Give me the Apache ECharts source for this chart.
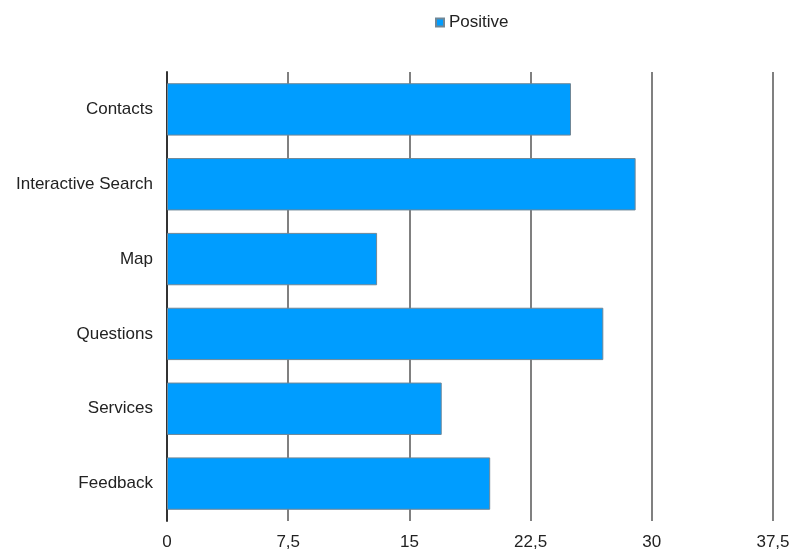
<!DOCTYPE html>
<html>
<head>
<meta charset="utf-8">
<script src="https://cdn.jsdelivr.net/npm/echarts@6/dist/echarts.min.js"></script>
<style>
  html, body { margin: 0; padding: 0; background: #fff; }
  #chart { width: 795px; height: 556px; }
</style>
</head>
<body>
<div id="chart"></div>
<script>
// Categories listed top to bottom
const categories = ['Contacts', 'Interactive Search', 'Map', 'Questions', 'Services', 'Feedback'];
const positiveValues = [25, 29, 13, 27, 17, 20];
const seriesName = 'Positive';
const axisMax = 37.5;
const axisStep = 7.5;

const labelFont = '"Liberation Sans", Arial, sans-serif';

const chart = echarts.init(document.getElementById('chart'), null, { renderer: 'canvas' });

chart.setOption({
  backgroundColor: '#ffffff',
  animation: false,
  textStyle: { fontFamily: labelFont },
  legend: {
    data: [seriesName],
    top: 9,
    left: 430,
    itemWidth: 8,
    itemHeight: 8,
    itemGap: 4,
    icon: 'rect',
    textStyle: { fontSize: 17, color: '#222', fontFamily: labelFont }
  },
  grid: { left: 167, right: 22, top: 72, bottom: 35, containLabel: false, outerBoundsMode: 'none' },
  xAxis: {
    type: 'value',
    min: 0,
    max: axisMax,
    interval: axisStep,
    axisLine: { show: false },
    axisTick: { show: false },
    splitLine: { show: true, lineStyle: { color: '#808080', width: 2 } },
    axisLabel: {
      fontSize: 17,
      color: '#222',
      margin: 13,
      fontFamily: labelFont,
      formatter: v => String(v).replace('.', ',')
    }
  },
  yAxis: {
    type: 'category',
    data: categories,
    inverse: true,
    axisLine: { show: true, lineStyle: { color: '#333', width: 2 } },
    axisTick: { show: false },
    axisLabel: { fontSize: 17, color: '#222', margin: 14, fontFamily: labelFont }
  },
  series: [{
    name: seriesName,
    type: 'bar',
    data: positiveValues,
    barWidth: '70%',
    itemStyle: { color: '#009dff', borderColor: '#6f8797', borderWidth: 1 }
  }]
});
</script>
</body>
</html>
